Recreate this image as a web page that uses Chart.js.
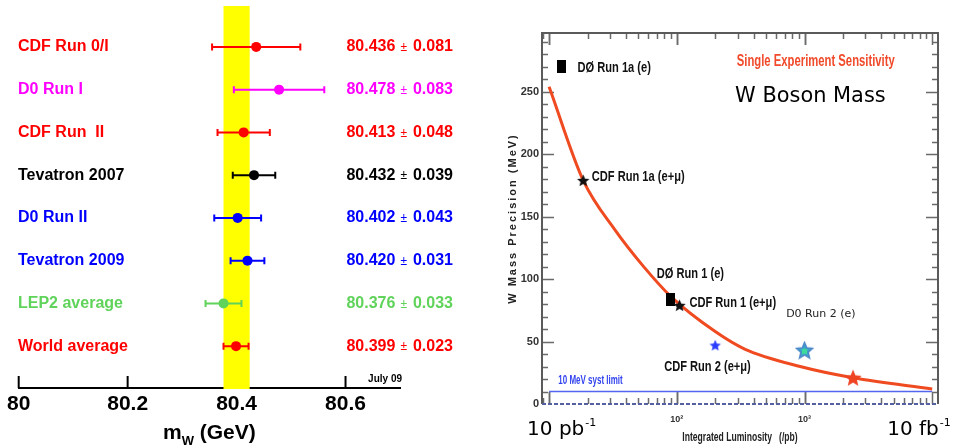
<!DOCTYPE html>
<html>
<head>
<meta charset="utf-8">
<title>W mass</title>
<script src="https://cdn.jsdelivr.net/npm/chart.js@4.4.0/dist/chart.umd.min.js"></script>
<style>
  html, body { margin: 0; padding: 0; background: #fff; }
  #wrap { position: relative; width: 959px; height: 447px; overflow: hidden; }
  .box { position: absolute; top: 0; height: 447px; }
</style>
</head>
<body>
<div id="wrap">
  <div class="box" style="left:0;width:500px"><canvas id="massChart"></canvas></div>
  <div class="box" style="left:500px;width:459px"><canvas id="lumiChart"></canvas></div>
</div>
<script>
// ---- left panel: W mass measurements
var experiments = ['CDF Run 0/I', 'D0 Run I', 'CDF Run  II', 'Tevatron 2007', 'D0 Run II', 'Tevatron 2009', 'LEP2 average', 'World average'];
var massValues = [80.436, 80.478, 80.413, 80.432, 80.402, 80.420, 80.376, 80.399];
var massErrors = [0.081, 0.083, 0.048, 0.039, 0.043, 0.031, 0.033, 0.023];
var rowColors = ['#ff0000', '#ff00ff', '#ff0000', '#000000', '#0000ff', '#0000ff', '#5fd35a', '#ff0000'];
var worldBand = [80.376, 80.424];
var massTicks = [80, 80.2, 80.4, 80.6];
var massTickLabels = ['80', '80.2', '80.4', '80.6'];

// ---- right panel: W mass precision vs luminosity
var lumiCurve = [10, 18.5, 33, 55, 90, 200, 340, 925, 2400, 10000];
var precisionCurve = [254, 179, 139, 110, 86, 58, 44, 30, 21, 12];
var systLimitLumi = [10, 10000];
var systLimitPrec = [10, 10];
var squareLumi = [12.6, 90];
var squarePrec = [270, 84];
var starLumi = [18.5, 105, 200, 1000, 2400];
var starPrec = [179, 79, 47, 43, 21];
var lumiTicks = [100, 1000];
var lumiTickLabels = ['10\u00b2', '10\u00b3'];
var precisionTicks = [0, 50, 100, 150, 200, 250];
var noteTexts = ['D\u00d8 Run 1a (e)', 'CDF Run 1a (e+\u03bc)', 'D\u00d8 Run 1 (e)', 'CDF Run 1 (e+\u03bc)', 'CDF Run 2 (e+\u03bc)'];
var noteLumi = [16.7, 21.6, 69.7, 125.6, 79.6];
var notePrec = [269, 182, 104, 80.6, 29.8];

var HELV = '"Liberation Sans", Arial, Helvetica, sans-serif';
var VERD = '"DejaVu Sans", Verdana, sans-serif';

// condensed text: plain font squeezed horizontally
function squeezeText(ctx, text, x, y, font, color, sx) {
  ctx.save();
  ctx.translate(x, y);
  ctx.scale(sx, 1);
  ctx.font = font;
  ctx.fillStyle = color;
  ctx.textAlign = 'left';
  ctx.textBaseline = 'middle';
  ctx.fillText(text, 0, 0);
  ctx.restore();
}

function starImage(size, fill, stroke, inner) {
  var c = document.createElement('canvas');
  c.width = size; c.height = size;
  var g = c.getContext('2d');
  var r = size / 2 - 1, ri = r * 0.45, cx = size / 2, cy = size / 2 + r * 0.08;
  g.beginPath();
  for (var k = 0; k < 10; k++) {
    var a = -Math.PI / 2 + k * Math.PI / 5;
    var rr = (k % 2) ? ri : r;
    g.lineTo(cx + rr * Math.cos(a), cy + rr * Math.sin(a));
  }
  g.closePath();
  g.fillStyle = fill;
  g.fill();
  if (stroke) { g.strokeStyle = stroke; g.lineWidth = 1.5; g.stroke(); }
  if (inner) { g.fillStyle = inner; g.fillRect(cx - 2.5, cy - 2, 5, 5); }
  return c;
}

function boxImage(w, h, fill) {
  var c = document.createElement('canvas');
  c.width = w; c.height = h;
  var g = c.getContext('2d');
  g.fillStyle = fill;
  g.fillRect(0, 0, w, h);
  return c;
}

// ---------------- left chart ----------------
var leftDecor = {
  id: 'leftDecor',
  beforeDatasetsDraw: function(chart) {
    var ctx = chart.ctx, x = chart.scales.x, area = chart.chartArea;
    ctx.save();
    ctx.strokeStyle = '#000';
    ctx.lineWidth = 2;
    massTicks.forEach(function(v) {
      var px = x.getPixelForValue(v);
      ctx.beginPath();
      ctx.moveTo(px, area.bottom);
      ctx.lineTo(px, area.bottom - 12);
      ctx.stroke();
    });
    var b0 = x.getPixelForValue(worldBand[0]), b1 = x.getPixelForValue(worldBand[1]);
    ctx.fillStyle = '#ffff00';
    ctx.fillRect(b0, area.top, b1 - b0, area.bottom - area.top + 1);
    ctx.restore();
  },
  afterDatasetsDraw: function(chart) {
    var ctx = chart.ctx, x = chart.scales.x, y = chart.scales.y, area = chart.chartArea;
    ctx.save();
    ctx.textBaseline = 'middle';
    experiments.forEach(function(name, i) {
      var py = y.getPixelForValue(i);
      ctx.fillStyle = rowColors[i];
      ctx.font = 'bold 16px ' + HELV;
      ctx.textAlign = 'left';
      ctx.fillText(name, area.left - 0.7, py);

      var right = area.right + 53;
      var a = massValues[i].toFixed(3), b = massErrors[i].toFixed(3);
      var wb = ctx.measureText(b).width;
      ctx.fillText(b, right - wb, py);
      ctx.font = '12px ' + HELV;
      var wpm = ctx.measureText('\u00b1').width;
      var pmx = right - wb - 6 - wpm;
      ctx.fillText('\u00b1', pmx, py + 1);
      ctx.font = 'bold 16px ' + HELV;
      var wa = ctx.measureText(a).width;
      ctx.fillText(a, pmx - 5 - wa, py);
    });

    ctx.fillStyle = '#000';
    ctx.font = 'bold 10px ' + HELV;
    ctx.textAlign = 'right';
    ctx.textBaseline = 'alphabetic';
    ctx.fillText('July 09', area.right + 2, area.bottom - 6);

    // axis title m_W (GeV)
    var big = 'bold 21px ' + HELV, small = 'bold 13px ' + HELV;
    ctx.textAlign = 'left';
    ctx.font = big; var wm = ctx.measureText('m').width; var wg = ctx.measureText(' (GeV)').width;
    ctx.font = small; var ww = ctx.measureText('W').width;
    var tx = (area.left + area.right) / 2 - (wm + ww + wg) / 2;
    var base = area.bottom + 51;
    ctx.font = big; ctx.fillText('m', tx, base);
    ctx.font = small; ctx.fillText('W', tx + wm, base + 6);
    ctx.font = big; ctx.fillText(' (GeV)', tx + wm + ww, base);
    ctx.restore();
  }
};

var errorSets = experiments.map(function(name, i) {
  return {
    type: 'line',
    data: [{ x: massValues[i] - massErrors[i], y: i }, { x: massValues[i] + massErrors[i], y: i }],
    borderColor: rowColors[i],
    borderWidth: 2,
    pointStyle: 'line',
    rotation: 90,
    pointRadius: 3.5,
    pointBorderWidth: 2,
    pointBorderColor: rowColors[i],
    showLine: true
  };
});

new Chart(document.getElementById('massChart'), {
  type: 'scatter',
  data: {
    datasets: [{
      data: massValues.map(function(v, i) { return { x: v, y: i }; }),
      pointRadius: 5,
      pointBackgroundColor: rowColors,
      pointBorderWidth: 0
    }].concat(errorSets)
  },
  options: {
    responsive: true,
    maintainAspectRatio: false,
    animation: false,
    layout: { padding: { left: 18.7, right: 100, top: 5, bottom: 0 } },
    plugins: { legend: { display: false }, tooltip: { enabled: false } },
    scales: {
      x: {
        type: 'linear', min: 80, max: 80.7,
        afterBuildTicks: function(s) { s.ticks = massTicks.map(function(v) { return { value: v }; }); },
        afterFit: function(s) { s.height = 59; },
        grid: { display: false, drawTicks: false },
        border: { display: true, color: '#000', width: 2 },
        ticks: {
          padding: 4,
          color: '#000',
          font: { family: HELV, size: 21, weight: 'bold' },
          callback: function(v) { var k = massTicks.indexOf(v); return k >= 0 ? massTickLabels[k] : ''; }
        }
      },
      y: { type: 'linear', reverse: true, min: -0.957, max: 7.979, display: false }
    }
  },
  plugins: [leftDecor]
});

// ---------------- right chart ----------------
var rightDecor = {
  id: 'rightDecor',
  beforeDatasetsDraw: function(chart) {
    var ctx = chart.ctx, x = chart.scales.x, y = chart.scales.y, a = chart.chartArea;
    ctx.save();
    ctx.strokeStyle = '#6a6a6a';
    ctx.lineWidth = 1.5;
    var v, px, py, len;
    for (v = 10; v < 297; v += 10) {
      py = Math.round(y.getPixelForValue(v)) + 0.5;
      len = (v % 50 === 0) ? 12 : 6;
      ctx.beginPath();
      ctx.moveTo(a.left, py); ctx.lineTo(a.left + len, py);
      ctx.moveTo(a.right, py); ctx.lineTo(a.right - len, py);
      ctx.stroke();
    }
    for (var d = 1; d <= 1000; d *= 10) {
      for (var m = 1; m <= 10; m++) {
        v = d * m;
        if (v < x.min || v > x.max) continue;
        px = Math.round(x.getPixelForValue(v)) + 0.5;
        len = (m === 1 || m === 10) ? 12 : 6;
        ctx.beginPath();
        ctx.moveTo(px, a.top); ctx.lineTo(px, a.top + len);
        ctx.moveTo(px, a.bottom); ctx.lineTo(px, a.bottom - len);
        ctx.stroke();
      }
    }
    ctx.lineWidth = 2;
    ctx.strokeStyle = '#5a5a5a';
    ctx.beginPath();
    ctx.moveTo(a.left, a.bottom); ctx.lineTo(a.left, a.top); ctx.lineTo(a.right, a.top); ctx.lineTo(a.right, a.bottom);
    ctx.stroke();
    ctx.strokeStyle = '#5560a0';
    ctx.setLineDash([4, 2]);
    ctx.beginPath();
    ctx.moveTo(a.left, a.bottom); ctx.lineTo(a.right, a.bottom);
    ctx.stroke();
    ctx.restore();
  },
  afterDatasetsDraw: function(chart) {
    var ctx = chart.ctx, x = chart.scales.x, y = chart.scales.y, a = chart.chartArea;
    var cond = 'bold 15px ' + HELV;
    noteTexts.forEach(function(t, i) {
      squeezeText(ctx, t, x.getPixelForValue(noteLumi[i]), y.getPixelForValue(notePrec[i]), cond, '#111', 0.74);
    });
    squeezeText(ctx, 'Single Experiment Sensitivity', x.getPixelForValue(295), y.getPixelForValue(274), 'bold 16px ' + HELV, '#f04a2a', 0.705);
    squeezeText(ctx, 'W Boson Mass', x.getPixelForValue(286), y.getPixelForValue(246), '22px ' + VERD, '#000', 0.95);
    squeezeText(ctx, 'D0 Run 2 (e)', x.getPixelForValue(718), y.getPixelForValue(71.8), '11px ' + VERD, '#222', 1);
    squeezeText(ctx, '10 MeV syst limit', x.getPixelForValue(11.8), y.getPixelForValue(18.6), 'bold 12.5px ' + HELV, '#3344ee', 0.64);

    ctx.save();
    // y title
    ctx.translate(y.left + 13, (a.top + a.bottom) / 2);
    ctx.rotate(-Math.PI / 2);
    ctx.font = 'bold 11px ' + HELV;
    if ('letterSpacing' in ctx) ctx.letterSpacing = '2px';
    ctx.fillStyle = '#222';
    ctx.textAlign = 'center';
    ctx.textBaseline = 'middle';
    ctx.fillText('W Mass Precision (MeV)', 0, 0);
    ctx.restore();

    // x title
    ctx.save();
    var xt = 'Integrated Luminosity   (/pb)';
    ctx.font = 'bold 13px ' + HELV;
    var wt = ctx.measureText(xt).width * 0.66;
    ctx.restore();
    squeezeText(ctx, xt, (a.left + a.right) / 2 - wt / 2, chart.height - 10, 'bold 13px ' + HELV, '#222', 0.66);

    // big end labels
    ctx.save();
    ctx.fillStyle = '#000';
    ctx.textBaseline = 'alphabetic';
    ctx.textAlign = 'left';
    [[10, 'pb', -22], [10000, 'fb', -45]].forEach(function(e) {
      var sx = x.getPixelForValue(e[0]) + e[2];
      ctx.font = '20px ' + VERD;
      ctx.fillText('10 ' + e[1], sx, a.bottom + 31);
      var w = ctx.measureText('10 ' + e[1]).width;
      ctx.font = '11px ' + VERD;
      ctx.fillText('-1', sx + w + 1, a.bottom + 22);
    });
    ctx.restore();
  }
};

var starStyles = [
  starImage(15, '#111', null, null),
  starImage(15, '#111', null, null),
  starImage(14, '#2a3cff', null, null),
  starImage(19, '#3aa8c8', '#4a86c8', '#3ddc9a'),
  starImage(20, '#ee4422', null, null)
];
var squareStyle = boxImage(9, 13, '#000');

new Chart(document.getElementById('lumiChart'), {
  type: 'scatter',
  data: {
    datasets: [
      {
        data: starLumi.map(function(v, i) { return { x: v, y: starPrec[i] }; }),
        pointStyle: starStyles,
        pointRadius: 7
      },
      {
        data: squareLumi.map(function(v, i) { return { x: v, y: squarePrec[i] }; }),
        pointStyle: squareStyle,
        pointRadius: 6
      },
      {
        data: lumiCurve.map(function(v, i) { return { x: v, y: precisionCurve[i] }; }),
        showLine: true,
        borderColor: '#ef4a20',
        borderWidth: 3,
        pointRadius: 0,
        cubicInterpolationMode: 'monotone'
      },
      {
        data: systLimitLumi.map(function(v, i) { return { x: v, y: systLimitPrec[i] }; }),
        showLine: true,
        borderColor: '#5566ee',
        borderWidth: 1.5,
        pointRadius: 0
      }
    ]
  },
  options: {
    responsive: true,
    maintainAspectRatio: false,
    animation: false,
    layout: { padding: { left: 0, right: 21, top: 33, bottom: 0 } },
    plugins: { legend: { display: false }, tooltip: { enabled: false } },
    scales: {
      x: {
        type: 'logarithmic', min: 8.8, max: 11100,
        afterBuildTicks: function(s) { s.ticks = lumiTicks.map(function(v) { return { value: v }; }); },
        afterFit: function(s) { s.height = 43; },
        grid: { display: false, drawTicks: false },
        border: { display: false },
        ticks: {
          autoSkip: false, maxRotation: 0, padding: 10,
          color: '#333',
          font: { family: HELV, size: 9, weight: 'bold' },
          callback: function(v) { var k = lumiTicks.indexOf(v); return k >= 0 ? lumiTickLabels[k] : ''; }
        }
      },
      y: {
        type: 'linear', min: 0, max: 297,
        afterBuildTicks: function(s) { s.ticks = precisionTicks.map(function(v) { return { value: v }; }); },
        afterFit: function(s) { s.width = 42; },
        grid: { display: false, drawTicks: false },
        border: { display: false },
        ticks: { padding: 3, color: '#333', font: { family: HELV, size: 11, weight: 'bold' } }
      }
    }
  },
  plugins: [rightDecor]
});
</script>
</body>
</html>
